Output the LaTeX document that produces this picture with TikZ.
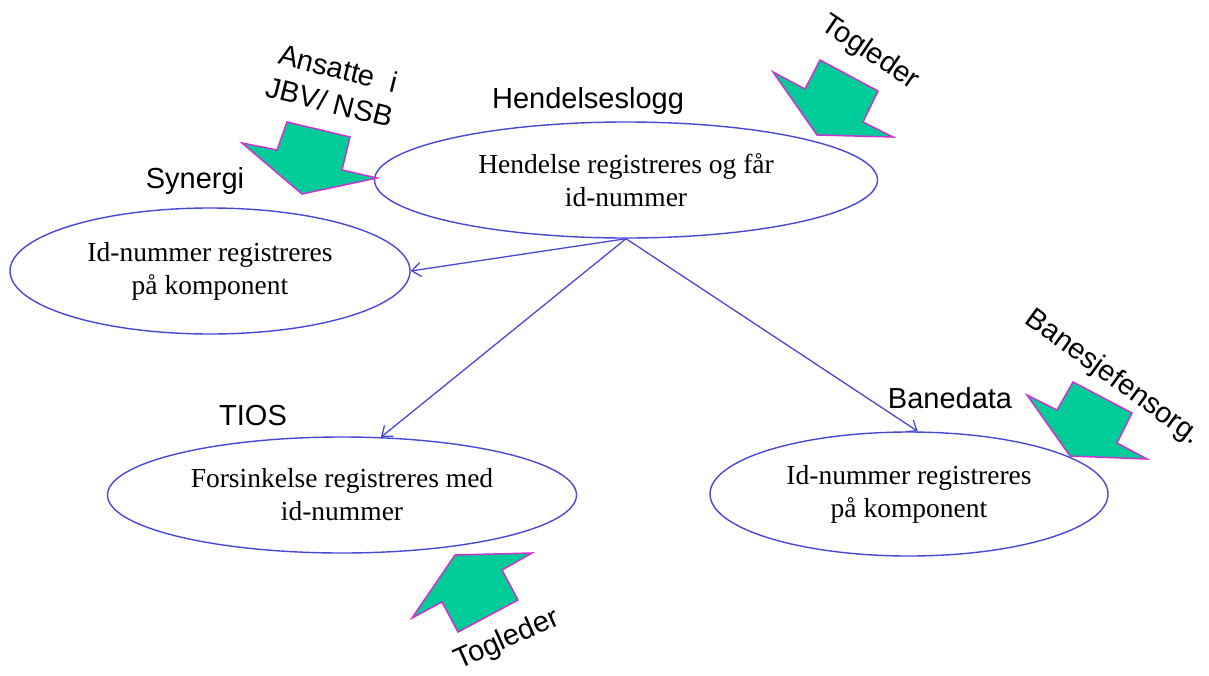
\documentclass[tikz,border=0pt]{standalone}
\usepackage{fontspec}
\setmainfont{Liberation Serif}
\setsansfont{Liberation Sans}
\usetikzlibrary{positioning}
\usetikzlibrary{shapes.geometric}
\usetikzlibrary{arrows.meta}

\definecolor{ovalblue}{RGB}{72,72,214}
\definecolor{feedgreen}{RGB}{0,204,153}
\definecolor{feedrim}{RGB}{204,51,204}

\tikzset{
  oval/.style={draw=ovalblue, line width=1.4pt, ellipse, inner sep=0pt, align=center, font=\fontsize{27.5}{33}\selectfont},
  sysname/.style={font=\sffamily\fontsize{29}{35}\selectfont, anchor=base},
  actor/.style={font=\sffamily\fontsize{29}{35}\selectfont, align=center},
  feed/.style={fill=feedgreen, draw=feedrim, line width=1.5pt, line join=miter},
  link/.style={draw=ovalblue, line width=1.3pt, -{Straight Barb[length=9pt,width=14pt]}}
}

\begin{document}
\begin{tikzpicture}[x=1pt, y=-1pt]
\useasboundingbox (0,0) rectangle (1209,675);

\node [oval, minimum width=503, minimum height=116] (logg) at (626,180) {Hendelse registreres og får\\id-nummer};
\node [oval, minimum width=400, minimum height=126] (synergi) at (210,271) {Id-nummer\ registreres\\på komponent};
\node [oval, minimum width=469, minimum height=116] (tios) at (342,495) {Forsinkelse\ registreres med\\id-nummer};
\node [oval, minimum width=398, minimum height=124] (bane) at (909,494) {Id-nummer\ registreres\\på komponent};

\node [sysname] (loggname) at (588,108) {Hendelseslogg};
\node [sysname] (synerginame) at (195,188) {Synergi};
\node [sysname] (tiosname) at (253,425) {TIOS};
\node [sysname] (banename) at (950,408) {Banedata};

\node [actor, rotate=-14] (ansatte) at (334,85) {Ansatte\ \ i\\JBV/ NSB};
\node [actor, rotate=-34] (togtop) at (870,53) {Togleder};
\node [actor, rotate=-36] (banesjef) at (1113,378) {Banesjefensorg.};
\node [actor, rotate=24] (togbot) at (507,640) {Togleder};

\draw [feed] (287,122) -- (350,137) -- (342,170) -- (377,178) -- (302,194) -- (242,143) -- (277,150) -- cycle;
\draw [feed] (820,60) -- (878,91) -- (863,122) -- (893,137) -- (817,135) -- (773,72) -- (805,89) -- cycle;
\draw [feed] (1073,382) -- (1132,413) -- (1117,443) -- (1147,459) -- (1070,456) -- (1027,395) -- (1057,410) -- cycle;
\draw [feed] (458,632) -- (518,600) -- (502,570) -- (532,553) -- (455,555) -- (412,618) -- (442,602) -- cycle;

\draw [link] (logg.south) -- (synergi.east);
\draw [link] (logg.south) -- (tios.56);
\draw [link] (logg.south) -- (bane.82);

\end{tikzpicture}
\end{document}
